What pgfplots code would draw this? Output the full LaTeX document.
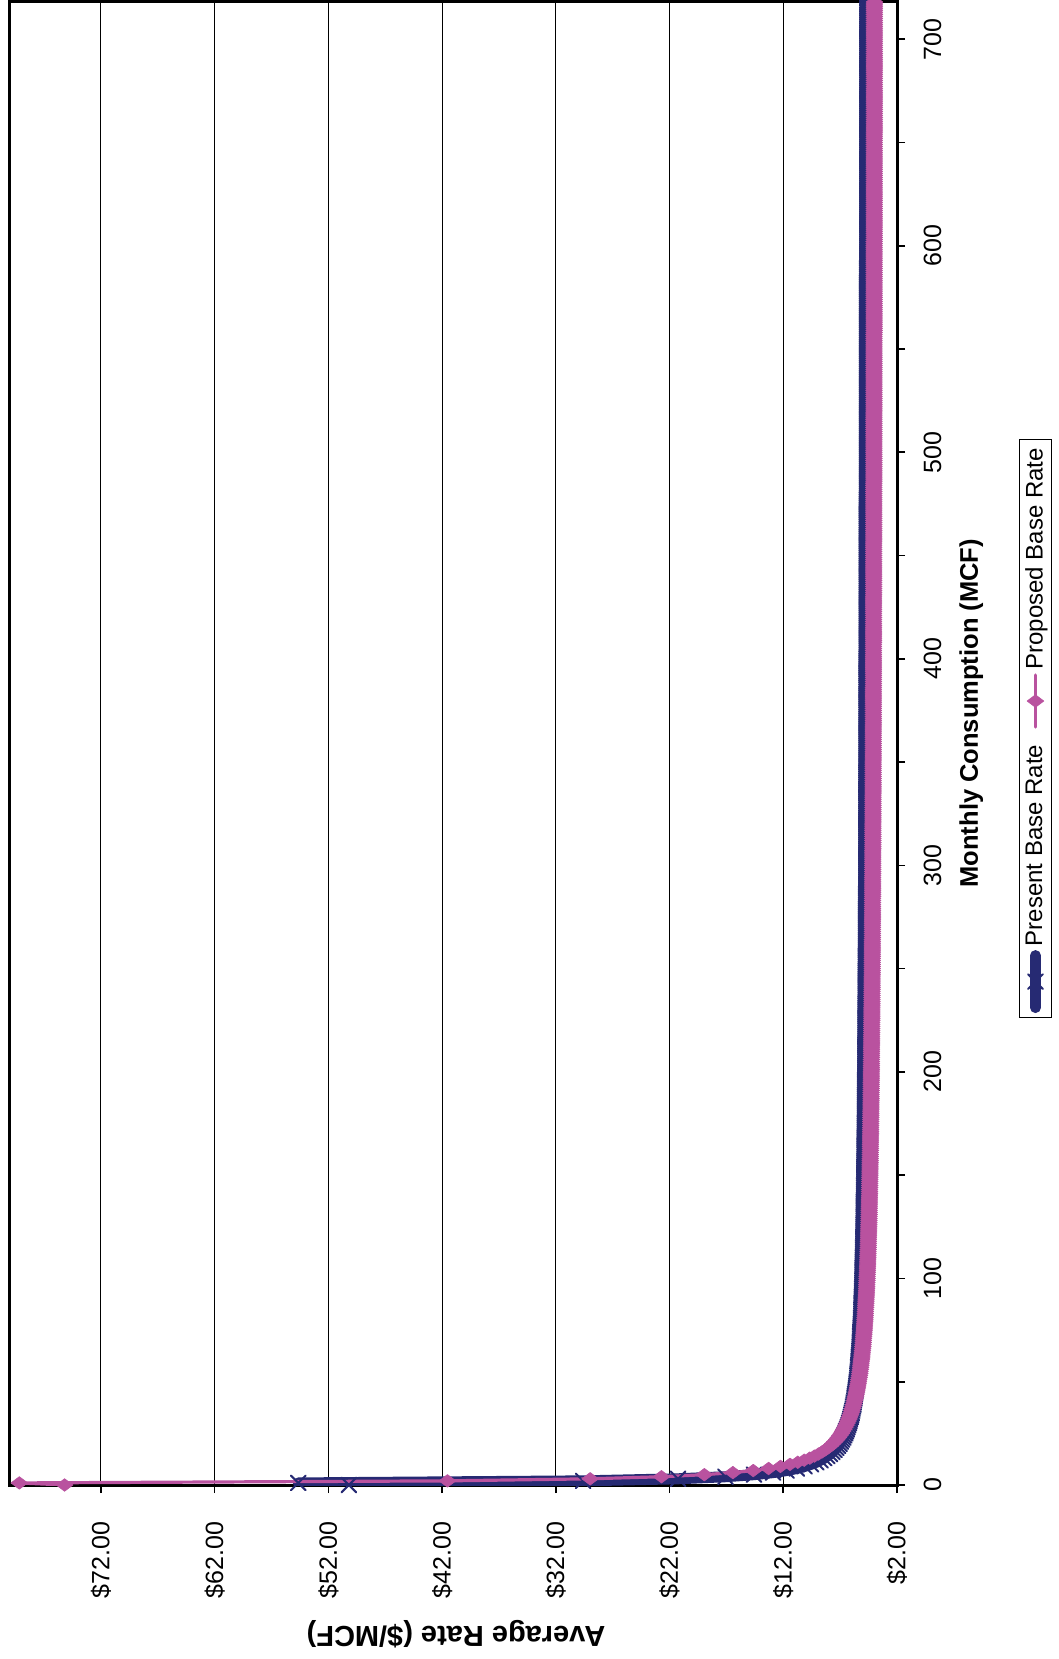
\documentclass[border=0pt]{standalone}
\usepackage{graphicx}
\usepackage{fontspec}
\setmainfont{Liberation Sans}
\usepackage{pgfplots}
\usepackage{pgfplotstable}
\pgfplotsset{compat=1.18}

\definecolor{presentblue}{RGB}{38,42,115}
\definecolor{proposedpink}{RGB}{185,82,159}

% Average rate ($/MCF) by monthly consumption (MCF)
\pgfplotstableread{
q present proposed
0 50.20 75.20
1 54.65 79.18
2 29.60 41.53
3 21.25 28.98
4 17.08 22.71
5 14.57 18.94
6 12.90 16.43
7 11.71 14.64
8 10.81 13.29
9 10.12 12.25
10 9.56 11.41
11 9.10 10.73
12 8.73 10.16
13 8.40 9.67
14 8.13 9.26
15 7.89 8.90
16 7.68 8.59
17 7.50 8.31
18 7.33 8.06
19 7.19 7.84
20 7.06 7.65
21 6.94 7.47
22 6.83 7.30
23 6.73 7.15
24 6.64 7.02
25 6.55 6.89
26 6.48 6.78
27 6.41 6.67
28 6.34 6.57
29 6.28 6.48
30 6.22 6.39
31 6.17 6.31
32 6.12 6.23
33 6.07 6.16
34 6.02 6.09
35 5.98 6.03
36 5.94 5.97
37 5.90 5.92
38 5.87 5.86
39 5.83 5.81
40 5.80 5.76
41 5.77 5.72
42 5.74 5.67
43 5.72 5.63
44 5.69 5.59
45 5.66 5.55
46 5.64 5.52
47 5.62 5.48
48 5.59 5.45
49 5.57 5.42
50 5.55 5.39
51 5.53 5.36
52 5.51 5.33
53 5.50 5.30
54 5.48 5.27
55 5.46 5.25
56 5.44 5.22
57 5.43 5.20
58 5.41 5.18
59 5.40 5.16
60 5.39 5.14
61 5.37 5.11
62 5.36 5.09
63 5.35 5.08
64 5.33 5.06
65 5.32 5.04
66 5.31 5.02
67 5.30 5.00
68 5.29 4.99
69 5.28 4.97
70 5.27 4.96
71 5.26 4.94
72 5.25 4.93
73 5.24 4.91
74 5.23 4.90
75 5.22 4.88
76 5.21 4.87
77 5.20 4.86
78 5.19 4.85
79 5.18 4.83
80 5.18 4.82
81 5.17 4.81
82 5.16 4.80
83 5.15 4.79
84 5.15 4.78
85 5.14 4.77
86 5.13 4.76
87 5.13 4.75
88 5.12 4.74
89 5.11 4.73
90 5.11 4.72
91 5.10 4.71
92 5.09 4.70
93 5.09 4.69
94 5.08 4.68
95 5.08 4.67
96 5.07 4.66
97 5.07 4.66
98 5.06 4.65
99 5.06 4.64
100 5.05 4.63
101 5.05 4.63
102 5.04 4.62
103 5.04 4.61
104 5.03 4.60
105 5.03 4.60
106 5.02 4.59
107 5.02 4.58
108 5.01 4.58
109 5.01 4.57
110 5.01 4.56
111 5.00 4.56
112 5.00 4.55
113 4.99 4.55
114 4.99 4.54
115 4.99 4.53
116 4.98 4.53
117 4.98 4.52
118 4.97 4.52
119 4.97 4.51
120 4.97 4.51
121 4.96 4.50
122 4.96 4.50
123 4.96 4.49
124 4.95 4.49
125 4.95 4.48
126 4.95 4.48
127 4.94 4.47
128 4.94 4.47
129 4.94 4.46
130 4.94 4.46
131 4.93 4.45
132 4.93 4.45
133 4.93 4.45
134 4.92 4.44
135 4.92 4.44
136 4.92 4.43
137 4.92 4.43
138 4.91 4.43
139 4.91 4.42
140 4.91 4.42
141 4.91 4.41
142 4.90 4.41
143 4.90 4.41
144 4.90 4.40
145 4.90 4.40
146 4.89 4.40
147 4.89 4.39
148 4.89 4.39
149 4.89 4.39
150 4.88 4.38
151 4.88 4.38
152 4.88 4.38
153 4.88 4.37
154 4.88 4.37
155 4.87 4.37
156 4.87 4.36
157 4.87 4.36
158 4.87 4.36
159 4.87 4.35
160 4.86 4.35
161 4.86 4.35
162 4.86 4.34
163 4.86 4.34
164 4.86 4.34
165 4.85 4.34
166 4.85 4.33
167 4.85 4.33
168 4.85 4.33
169 4.85 4.33
170 4.84 4.32
171 4.84 4.32
172 4.84 4.32
173 4.84 4.32
174 4.84 4.31
175 4.84 4.31
176 4.83 4.31
177 4.83 4.31
178 4.83 4.30
179 4.83 4.30
180 4.83 4.30
181 4.83 4.30
182 4.83 4.29
183 4.82 4.29
184 4.82 4.29
185 4.82 4.29
186 4.82 4.28
187 4.82 4.28
188 4.82 4.28
189 4.82 4.28
190 4.81 4.28
191 4.81 4.27
192 4.81 4.27
193 4.81 4.27
194 4.81 4.27
195 4.81 4.27
196 4.81 4.26
197 4.80 4.26
198 4.80 4.26
199 4.80 4.26
200 4.80 4.26
201 4.80 4.25
202 4.80 4.25
203 4.80 4.25
204 4.80 4.25
205 4.79 4.25
206 4.79 4.25
207 4.79 4.24
208 4.79 4.24
209 4.79 4.24
210 4.79 4.24
211 4.79 4.24
212 4.79 4.24
213 4.79 4.23
214 4.78 4.23
215 4.78 4.23
216 4.78 4.23
217 4.78 4.23
218 4.78 4.23
219 4.78 4.22
220 4.78 4.22
221 4.78 4.22
222 4.78 4.22
223 4.77 4.22
224 4.77 4.22
225 4.77 4.21
226 4.77 4.21
227 4.77 4.21
228 4.77 4.21
229 4.77 4.21
230 4.77 4.21
231 4.77 4.21
232 4.77 4.20
233 4.77 4.20
234 4.76 4.20
235 4.76 4.20
236 4.76 4.20
237 4.76 4.20
238 4.76 4.20
239 4.76 4.20
240 4.76 4.19
241 4.76 4.19
242 4.76 4.19
243 4.76 4.19
244 4.76 4.19
245 4.75 4.19
246 4.75 4.19
247 4.75 4.18
248 4.75 4.18
249 4.75 4.18
250 4.75 4.18
251 4.75 4.18
252 4.75 4.18
253 4.75 4.18
254 4.75 4.18
255 4.75 4.18
256 4.75 4.17
257 4.74 4.17
258 4.74 4.17
259 4.74 4.17
260 4.74 4.17
261 4.74 4.17
262 4.74 4.17
263 4.74 4.17
264 4.74 4.17
265 4.74 4.16
266 4.74 4.16
267 4.74 4.16
268 4.74 4.16
269 4.74 4.16
270 4.74 4.16
271 4.73 4.16
272 4.73 4.16
273 4.73 4.16
274 4.73 4.15
275 4.73 4.15
276 4.73 4.15
277 4.73 4.15
278 4.73 4.15
279 4.73 4.15
280 4.73 4.15
281 4.73 4.15
282 4.73 4.15
283 4.73 4.15
284 4.73 4.15
285 4.73 4.14
286 4.73 4.14
287 4.72 4.14
288 4.72 4.14
289 4.72 4.14
290 4.72 4.14
291 4.72 4.14
292 4.72 4.14
293 4.72 4.14
294 4.72 4.14
295 4.72 4.14
296 4.72 4.13
297 4.72 4.13
298 4.72 4.13
299 4.72 4.13
300 4.72 4.13
301 4.72 4.13
302 4.72 4.13
303 4.72 4.13
304 4.71 4.13
305 4.71 4.13
306 4.71 4.13
307 4.71 4.13
308 4.71 4.12
309 4.71 4.12
310 4.71 4.12
311 4.71 4.12
312 4.71 4.12
313 4.71 4.12
314 4.71 4.12
315 4.71 4.12
316 4.71 4.12
317 4.71 4.12
318 4.71 4.12
319 4.71 4.12
320 4.71 4.12
321 4.71 4.11
322 4.71 4.11
323 4.71 4.11
324 4.70 4.11
325 4.70 4.11
326 4.70 4.11
327 4.70 4.11
328 4.70 4.11
329 4.70 4.11
330 4.70 4.11
331 4.70 4.11
332 4.70 4.11
333 4.70 4.11
334 4.70 4.11
335 4.70 4.10
336 4.70 4.10
337 4.70 4.10
338 4.70 4.10
339 4.70 4.10
340 4.70 4.10
341 4.70 4.10
342 4.70 4.10
343 4.70 4.10
344 4.70 4.10
345 4.70 4.10
346 4.69 4.10
347 4.69 4.10
348 4.69 4.10
349 4.69 4.10
350 4.69 4.10
351 4.69 4.09
352 4.69 4.09
353 4.69 4.09
354 4.69 4.09
355 4.69 4.09
356 4.69 4.09
357 4.69 4.09
358 4.69 4.09
359 4.69 4.09
360 4.69 4.09
361 4.69 4.09
362 4.69 4.09
363 4.69 4.09
364 4.69 4.09
365 4.69 4.09
366 4.69 4.09
367 4.69 4.09
368 4.69 4.08
369 4.69 4.08
370 4.69 4.08
371 4.69 4.08
372 4.68 4.08
373 4.68 4.08
374 4.68 4.08
375 4.68 4.08
376 4.68 4.08
377 4.68 4.08
378 4.68 4.08
379 4.68 4.08
380 4.68 4.08
381 4.68 4.08
382 4.68 4.08
383 4.68 4.08
384 4.68 4.08
385 4.68 4.08
386 4.68 4.08
387 4.68 4.07
388 4.68 4.07
389 4.68 4.07
390 4.68 4.07
391 4.68 4.07
392 4.68 4.07
393 4.68 4.07
394 4.68 4.07
395 4.68 4.07
396 4.68 4.07
397 4.68 4.07
398 4.68 4.07
399 4.68 4.07
400 4.68 4.07
401 4.67 4.07
402 4.67 4.07
403 4.67 4.07
404 4.67 4.07
405 4.67 4.07
406 4.67 4.07
407 4.67 4.07
408 4.67 4.06
409 4.67 4.06
410 4.67 4.06
411 4.67 4.06
412 4.67 4.06
413 4.67 4.06
414 4.67 4.06
415 4.67 4.06
416 4.67 4.06
417 4.67 4.06
418 4.67 4.06
419 4.67 4.06
420 4.67 4.06
421 4.67 4.06
422 4.67 4.06
423 4.67 4.06
424 4.67 4.06
425 4.67 4.06
426 4.67 4.06
427 4.67 4.06
428 4.67 4.06
429 4.67 4.06
430 4.67 4.06
431 4.67 4.05
432 4.67 4.05
433 4.67 4.05
434 4.67 4.05
435 4.67 4.05
436 4.66 4.05
437 4.66 4.05
438 4.66 4.05
439 4.66 4.05
440 4.66 4.05
441 4.66 4.05
442 4.66 4.05
443 4.66 4.05
444 4.66 4.05
445 4.66 4.05
446 4.66 4.05
447 4.66 4.05
448 4.66 4.05
449 4.66 4.05
450 4.66 4.05
451 4.66 4.05
452 4.66 4.05
453 4.66 4.05
454 4.66 4.05
455 4.66 4.05
456 4.66 4.05
457 4.66 4.04
458 4.66 4.04
459 4.66 4.04
460 4.66 4.04
461 4.66 4.04
462 4.66 4.04
463 4.66 4.04
464 4.66 4.04
465 4.66 4.04
466 4.66 4.04
467 4.66 4.04
468 4.66 4.04
469 4.66 4.04
470 4.66 4.04
471 4.66 4.04
472 4.66 4.04
473 4.66 4.04
474 4.66 4.04
475 4.66 4.04
476 4.66 4.04
477 4.66 4.04
478 4.65 4.04
479 4.65 4.04
480 4.65 4.04
481 4.65 4.04
482 4.65 4.04
483 4.65 4.04
484 4.65 4.04
485 4.65 4.04
486 4.65 4.03
487 4.65 4.03
488 4.65 4.03
489 4.65 4.03
490 4.65 4.03
491 4.65 4.03
492 4.65 4.03
493 4.65 4.03
494 4.65 4.03
495 4.65 4.03
496 4.65 4.03
497 4.65 4.03
498 4.65 4.03
499 4.65 4.03
500 4.65 4.03
501 4.65 4.03
502 4.65 4.03
503 4.65 4.03
504 4.65 4.03
505 4.65 4.03
506 4.65 4.03
507 4.65 4.03
508 4.65 4.03
509 4.65 4.03
510 4.65 4.03
511 4.65 4.03
512 4.65 4.03
513 4.65 4.03
514 4.65 4.03
515 4.65 4.03
516 4.65 4.03
517 4.65 4.03
518 4.65 4.03
519 4.65 4.03
520 4.65 4.02
521 4.65 4.02
522 4.65 4.02
523 4.65 4.02
524 4.65 4.02
525 4.65 4.02
526 4.65 4.02
527 4.65 4.02
528 4.64 4.02
529 4.64 4.02
530 4.64 4.02
531 4.64 4.02
532 4.64 4.02
533 4.64 4.02
534 4.64 4.02
535 4.64 4.02
536 4.64 4.02
537 4.64 4.02
538 4.64 4.02
539 4.64 4.02
540 4.64 4.02
541 4.64 4.02
542 4.64 4.02
543 4.64 4.02
544 4.64 4.02
545 4.64 4.02
546 4.64 4.02
547 4.64 4.02
548 4.64 4.02
549 4.64 4.02
550 4.64 4.02
551 4.64 4.02
552 4.64 4.02
553 4.64 4.02
554 4.64 4.02
555 4.64 4.02
556 4.64 4.02
557 4.64 4.02
558 4.64 4.01
559 4.64 4.01
560 4.64 4.01
561 4.64 4.01
562 4.64 4.01
563 4.64 4.01
564 4.64 4.01
565 4.64 4.01
566 4.64 4.01
567 4.64 4.01
568 4.64 4.01
569 4.64 4.01
570 4.64 4.01
571 4.64 4.01
572 4.64 4.01
573 4.64 4.01
574 4.64 4.01
575 4.64 4.01
576 4.64 4.01
577 4.64 4.01
578 4.64 4.01
579 4.64 4.01
580 4.64 4.01
581 4.64 4.01
582 4.64 4.01
583 4.64 4.01
584 4.64 4.01
585 4.64 4.01
586 4.64 4.01
587 4.64 4.01
588 4.64 4.01
589 4.64 4.01
590 4.63 4.01
591 4.63 4.01
592 4.63 4.01
593 4.63 4.01
594 4.63 4.01
595 4.63 4.01
596 4.63 4.01
597 4.63 4.01
598 4.63 4.01
599 4.63 4.01
600 4.63 4.01
601 4.63 4.01
602 4.63 4.01
603 4.63 4.00
604 4.63 4.00
605 4.63 4.00
606 4.63 4.00
607 4.63 4.00
608 4.63 4.00
609 4.63 4.00
610 4.63 4.00
611 4.63 4.00
612 4.63 4.00
613 4.63 4.00
614 4.63 4.00
615 4.63 4.00
616 4.63 4.00
617 4.63 4.00
618 4.63 4.00
619 4.63 4.00
620 4.63 4.00
621 4.63 4.00
622 4.63 4.00
623 4.63 4.00
624 4.63 4.00
625 4.63 4.00
626 4.63 4.00
627 4.63 4.00
628 4.63 4.00
629 4.63 4.00
630 4.63 4.00
631 4.63 4.00
632 4.63 4.00
633 4.63 4.00
634 4.63 4.00
635 4.63 4.00
636 4.63 4.00
637 4.63 4.00
638 4.63 4.00
639 4.63 4.00
640 4.63 4.00
641 4.63 4.00
642 4.63 4.00
643 4.63 4.00
644 4.63 4.00
645 4.63 4.00
646 4.63 4.00
647 4.63 4.00
648 4.63 4.00
649 4.63 4.00
650 4.63 4.00
651 4.63 4.00
652 4.63 4.00
653 4.63 4.00
654 4.63 4.00
655 4.63 3.99
656 4.63 3.99
657 4.63 3.99
658 4.63 3.99
659 4.63 3.99
660 4.63 3.99
661 4.63 3.99
662 4.63 3.99
663 4.63 3.99
664 4.63 3.99
665 4.63 3.99
666 4.63 3.99
667 4.63 3.99
668 4.63 3.99
669 4.62 3.99
670 4.62 3.99
671 4.62 3.99
672 4.62 3.99
673 4.62 3.99
674 4.62 3.99
675 4.62 3.99
676 4.62 3.99
677 4.62 3.99
678 4.62 3.99
679 4.62 3.99
680 4.62 3.99
681 4.62 3.99
682 4.62 3.99
683 4.62 3.99
684 4.62 3.99
685 4.62 3.99
686 4.62 3.99
687 4.62 3.99
688 4.62 3.99
689 4.62 3.99
690 4.62 3.99
691 4.62 3.99
692 4.62 3.99
693 4.62 3.99
694 4.62 3.99
695 4.62 3.99
696 4.62 3.99
697 4.62 3.99
698 4.62 3.99
699 4.62 3.99
700 4.62 3.99
701 4.62 3.99
702 4.62 3.99
703 4.62 3.99
704 4.62 3.99
705 4.62 3.99
706 4.62 3.99
707 4.62 3.99
708 4.62 3.99
709 4.62 3.99
710 4.62 3.99
711 4.62 3.99
712 4.62 3.99
713 4.62 3.99
714 4.62 3.99
715 4.62 3.99
716 4.62 3.99
717 4.62 3.99
718 4.62 3.98
719 4.62 3.98
720 4.62 3.98
}\ratedata

\begin{document}
\rotatebox{90}{%
\begin{tikzpicture}
\useasboundingbox (-87pt,-81pt) rectangle (742.5pt,448.5pt);
\begin{axis}[
  at={(0pt,0pt)}, anchor=south west,
  scale only axis, width=741.5pt, height=443.5pt,
  xmin=0, xmax=718, ymin=2, ymax=80,
  axis line style={black, line width=1.5pt},
  tick align=outside, major tick length=4pt,
  every tick/.style={black, line width=0.8pt},
  xtick={0,50,...,700},
  xticklabels={0,{},100,{},200,{},300,{},400,{},500,{},600,{},700},
  ytick={2,12,22,32,42,52,62,72},
  yticklabels={\$2.00,\$12.00,\$22.00,\$32.00,\$42.00,\$52.00,\$62.00,\$72.00},
  xtick pos=left, ytick pos=left,
  /pgf/number format/assume math mode=true,
  tick label style={font=\fontsize{12.5}{15}\selectfont},
  xticklabel style={yshift=-5.8pt},
  yticklabel style={xshift=-10.8pt},
  ymajorgrids, major grid style={black, line width=0.5pt},
  xlabel={Monthly Consumption (MCF)},
  ylabel={Average Rate (\$/MCF)},
  xlabel style={at={(axis description cs:0.5204,-0.0913)}, anchor=base,
    font=\bfseries\fontsize{12.75}{15}\selectfont},
  ylabel style={at={(axis description cs:-0.0956,0.4972)}, anchor=base,
    font=\bfseries\fontsize{14.5}{17}\selectfont},
  legend columns=2,
  legend cell align=left,
  legend style={at={(axis description cs:0.5101,-0.1561)}, anchor=center,
    draw=black, line width=0.5pt, inner xsep=2pt, inner ysep=1pt,
    font=\fontsize{12}{14}\selectfont,
    /tikz/every even column/.append style={column sep=6pt}},
  legend image code/.code={%
    \draw[#1, mark repeat=2, mark phase=2]
      plot coordinates {(0pt,0pt) (13pt,0pt) (26pt,0pt)};},
]
\addplot[presentblue, line width=5.5pt, line join=round, line cap=round,
  mark=x, mark size=5.2pt, mark options={line width=1pt, presentblue}]
  table[x=q, y=present] {\ratedata};
\addlegendentry{Present Base Rate}
\addplot[proposedpink, line width=1.6pt, line join=round, line cap=round,
  mark=diamond*, mark size=4.2pt,
  mark options={line width=0.3pt, fill=proposedpink, draw=proposedpink}]
  table[x=q, y=proposed] {\ratedata};
\addlegendentry{Proposed Base Rate}
\end{axis}
\end{tikzpicture}}
\end{document}
